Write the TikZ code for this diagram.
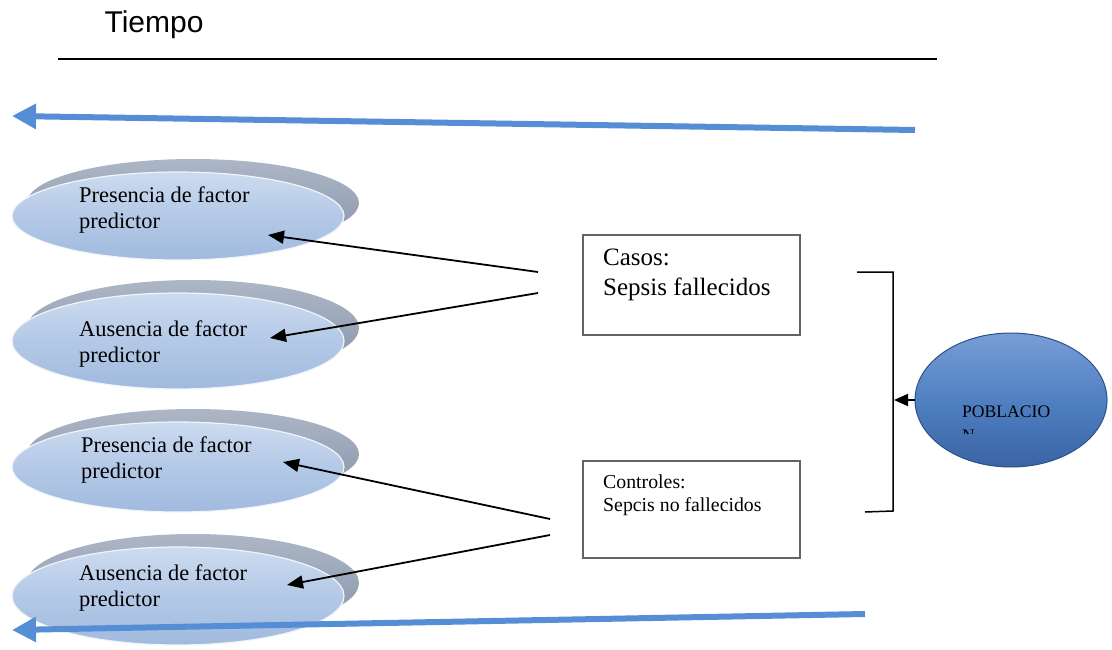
\documentclass[tikz,border=0pt]{standalone}
\usepackage{fontspec}
\setmainfont{Liberation Serif}
\newfontfamily\arialf{Liberation Sans}
\usetikzlibrary{arrows.meta,calc,shapes.geometric}
\definecolor{timeblue}{RGB}{85,142,213}
\definecolor{backgray}{RGB}{135,148,168}
\definecolor{backlight}{RGB}{172,182,198}
\definecolor{fronttop}{RGB}{204,219,239}
\definecolor{frontmid}{RGB}{180,201,231}
\definecolor{frontbot}{RGB}{160,186,222}
\definecolor{pobtop}{RGB}{120,158,214}
\definecolor{pobmid}{RGB}{80,128,194}
\definecolor{pobbot}{RGB}{58,100,166}
\definecolor{boxgray}{RGB}{100,100,100}
\tikzset{
  backell/.style={ellipse, inner sep=0pt, minimum width=332pt, top color=backlight, bottom color=backgray, draw=none},
  frontell/.style={ellipse, inner sep=0pt, minimum width=332pt, top color=fronttop, bottom color=frontbot, middle color=frontmid, draw=white!85!frontbot, line width=1.2pt},
  elltext/.style={anchor=west, align=left, inner sep=0pt, font=\fontsize{22.4}{26}\selectfont},
  casebox/.style={draw=boxgray, line width=1.5pt, minimum width=217pt, minimum height=100pt, inner sep=0pt},
  timearrow/.style={draw=timeblue, line width=6pt, -{Triangle[length=24pt,width=24pt]}},
  blackarrow/.style={draw=black, line width=1.8pt, -{Triangle[length=16pt,width=13pt]}},
}
\begin{document}
\begin{tikzpicture}[x=1pt,y=-1pt]
\useasboundingbox (0,0) rectangle (1112,650);

% title and rule
\node[anchor=center, inner sep=0pt, font=\arialf\fontsize{30}{32}\selectfont] (tiempo) at (154,25) {Tiempo};
\coordinate (ruleL) at (58,59);
\coordinate (ruleR) at (937,59);
\draw[line width=1.8pt] (ruleL) -- (ruleR);

% ellipses
\node[backell, minimum height=88pt] (b1) at (193,203) {};
\node[frontell, minimum height=88pt] (e1) at (178,216) {};
\node[backell, minimum height=96pt] (b2) at (193,328) {};
\node[frontell, minimum height=96pt] (e2) at (178,341) {};
\node[backell, minimum height=90pt] (b3) at (193,454) {};
\node[frontell, minimum height=90pt] (e3) at (178,467) {};
\node[backell, minimum height=98pt] (b4) at (193,583) {};
\node[frontell, minimum height=98pt] (e4) at (178,596) {};

\node[elltext] (t1) at (79,210) {Presencia de factor\\predictor};
\node[elltext] (t2) at (79,344) {Ausencia de factor\\predictor};
\node[elltext] (t3) at (81,460) {Presencia de factor\\predictor};
\node[elltext] (t4) at (79,588) {Ausencia de factor\\predictor};

% time arrows
\coordinate (topT) at (915,130);
\coordinate (topH) at (12,116);
\draw[timearrow] (topT) -- (topH);
\coordinate (botT) at (865,614);
\coordinate (botH) at (12,630);
\draw[timearrow] (botT) -- (botH);

% boxes
\node[casebox] (casos) at (691.5,285) {};
\node[anchor=west, align=left, inner sep=0pt, font=\fontsize{25}{30}\selectfont] (casostxt) at (603,275) {Casos:\\Sepsis fallecidos};
\node[casebox, minimum height=97pt] (ctrl) at (691.5,509.5) {};
\node[anchor=west, align=left, inner sep=0pt, font=\fontsize{19.8}{23}\selectfont] (ctrltxt) at (603,495.5) {Controles:\\Sepcis no fallecidos};

% black arrows
\coordinate (c1) at (538,272);
\coordinate (c2) at (538,293);
\coordinate (d1) at (550,519);
\coordinate (d2) at (550,535);
\coordinate (a1) at (268,235);
\coordinate (a2) at (270,338);
\coordinate (a3) at (283,462);
\coordinate (a4) at (287,585);
\draw[blackarrow] (c1) -- (a1);
\draw[blackarrow] (c2) -- (a2);
\draw[blackarrow] (d1) -- (a3);
\draw[blackarrow] (d2) -- (a4);

% bracket
\coordinate (br1) at (857,272);
\coordinate (br2) at (893,272);
\coordinate (br3) at (893,511);
\coordinate (br4) at (865,512);
\draw[line width=1.5pt] (br1) -- (br2) -- (br3) -- (br4);

% poblacion
\node[ellipse, inner sep=0pt, minimum width=192pt, minimum height=134pt, top color=pobtop, bottom color=pobbot, middle color=pobmid, draw=pobbot!80!black, line width=1pt] (pob) at (1011,400) {};
\begin{scope}
  \clip (940,380) rectangle (1100,433);
  \node[anchor=base west, align=left, inner sep=0pt, font=\fontsize{17.6}{24}\selectfont] (pobtxt) at (962,441) {POBLACIO\\N};
\end{scope}
\coordinate (brmid) at (894,400);
\draw[draw=black, line width=1.8pt, -{Triangle[length=14pt,width=12pt]}] (pob.west) -- (brmid);
\end{tikzpicture}
\end{document}
